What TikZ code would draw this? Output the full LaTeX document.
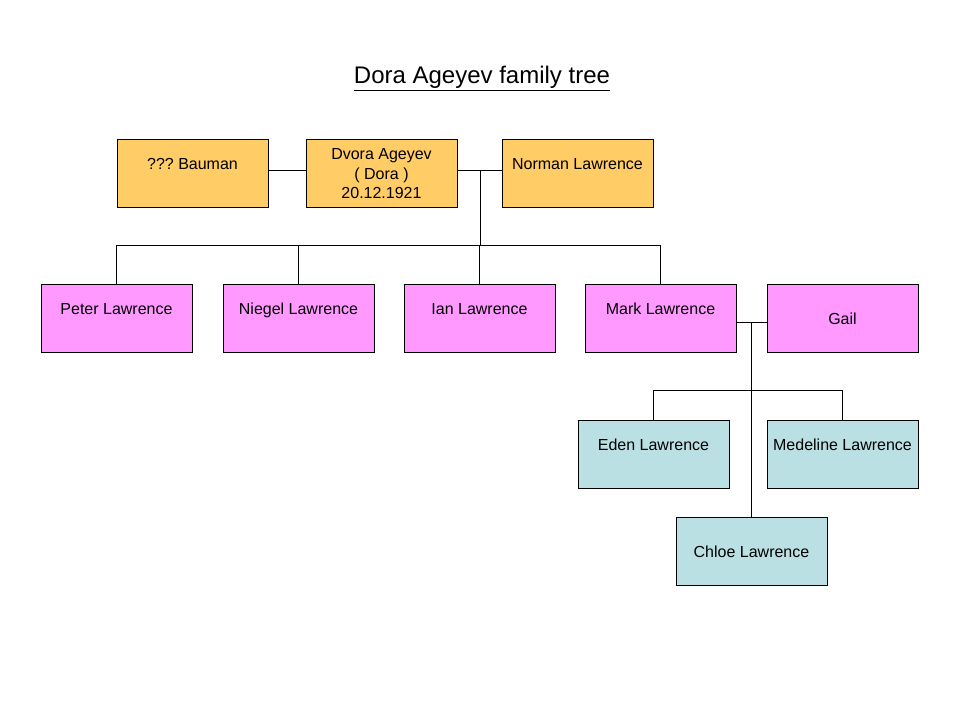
\documentclass[tikz,border=0pt]{standalone}
\usepackage{fontspec}
\setmainfont{Liberation Sans}
\definecolor{elder}{HTML}{FFCC66}
\definecolor{child}{HTML}{FF99FF}
\definecolor{grandchild}{HTML}{BBE0E3}
\begin{document}
\begin{tikzpicture}[x=0.75pt,y=-0.75pt,line width=0.75pt,
        person/.style={draw=black,rectangle,minimum width=113.25pt,minimum height=51pt,inner sep=0pt,align=center,font=\fontsize{12}{14.6}\selectfont},
        topline/.style={person,text height=22.5pt,text depth=28.5pt}]
            \useasboundingbox (0,0) rectangle (960,720);
            \node (title) at (482,79) {\fontsize{18}{22}\selectfont\underline{Dora Ageyev family tree}};
            \node[topline,fill=elder] (bauman) at (192.5,174) {???\ Bauman};
            \node[person,fill=elder] (dvora) at (381.5,174) {Dvora Ageyev\\( Dora )\\20.12.1921};
            \node[topline,fill=elder] (norman) at (577.5,174) {Norman Lawrence};
            \node[topline,fill=child] (peter) at (116.5,318.5) {Peter Lawrence};
            \node[topline,fill=child] (niegel) at (298.5,318.5) {Niegel Lawrence};
            \node[topline,fill=child] (ian) at (479.5,318.5) {Ian Lawrence};
            \node[topline,fill=child] (mark) at (660.5,318.5) {Mark Lawrence};
            \node[person,fill=child] (gail) at (842.5,318.5) {Gail};
            \node[topline,fill=grandchild] (eden) at (653.5,454) {Eden Lawrence};
            \node[topline,fill=grandchild] (medeline) at (842.5,454) {Medeline Lawrence};
            \node[person,fill=grandchild] (chloe) at (751.5,551.5) {Chloe Lawrence};
            \coordinate (couple1) at (480,171);
            \coordinate (bar1) at (480,246);
            \coordinate (couple2) at (751.5,323);
            \coordinate (bar2) at (751.5,390);
            \draw ([yshift=2.25pt]bauman.east) -- ([yshift=2.25pt]dvora.west);
            \draw ([yshift=2.25pt]dvora.east) -- ([yshift=2.25pt]norman.west);
            \draw (couple1) -- (bar1);
            \draw (peter.north) -- (peter.north |- bar1) -- (mark.north |- bar1) -- (mark.north);
            \draw (niegel.north) -- (niegel.north |- bar1);
            \draw (ian.north) -- (ian.north |- bar1);
            \draw ([yshift=-3pt]mark.east) -- ([yshift=-3pt]gail.west);
            \draw (couple2) -- (chloe.north);
            \draw (eden.north) -- (eden.north |- bar2) -- (medeline.north |- bar2) -- (medeline.north);
        \end{tikzpicture}
\end{document}
